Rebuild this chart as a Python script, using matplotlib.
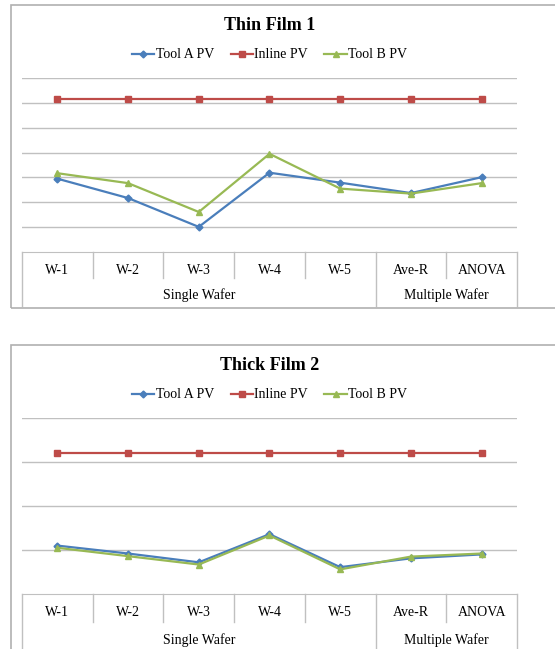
import numpy as np
import matplotlib.pyplot as plt
from matplotlib.patches import Rectangle
from matplotlib import transforms

plt.rcParams['font.family'] = ['Liberation Serif', 'DejaVu Serif']

# data
kategori = ["W-1", "W-2", "W-3", "W-4", "W-5", "Ave-R", "ANOVA"]
grup = ["Single Wafer", "Multiple Wafer"]
ukuran_grup = [5, 2]

# Thin Film 1
thin_tool_a = [2.95, 2.17, 1.01, 3.19, 2.79, 2.37, 3.01]
thin_inline = [6.15, 6.15, 6.15, 6.15, 6.15, 6.15, 6.15]
thin_tool_b = [3.17, 2.77, 1.61, 3.95, 2.55, 2.35, 2.77]

# Thick Film 2
thick_tool_a = [1.10, 0.92, 0.72, 1.36, 0.61, 0.81, 0.90]
thick_inline = [3.20, 3.20, 3.20, 3.20, 3.20, 3.20, 3.20]
thick_tool_b = [1.05, 0.86, 0.67, 1.33, 0.56, 0.85, 0.92]

W, H = 555, 649
fig = plt.figure(figsize=(W / 100, H / 100), dpi=100)

abu = '#c0c0c0'
warna_a = '#4a7ebb'
warna_inline = '#be4b48'
warna_b = '#98b954'


def panel(judul, tool_a, inline, tool_b, top_px, bot_px, ymax, box_top, box_bot, row1, lab1, lab2):
    ax = fig.add_axes([22 / W, (H - bot_px) / H, 495 / W, (bot_px - top_px) / H])
    x = np.arange(len(kategori))
    ax.plot(x, tool_a, color=warna_a, lw=1.6, marker='D', ms=3.5, label='Tool A PV', zorder=3)
    ax.plot(x, inline, color=warna_inline, lw=1.6, marker='s', ms=5, label='Inline PV', zorder=3)
    ax.plot(x, tool_b, color=warna_b, lw=1.6, marker='^', ms=5, label='Tool B PV', zorder=3)
    ax.set_xlim(-0.5, len(kategori) - 0.5)
    ax.set_ylim(0, ymax)
    ax.set_yticks(np.arange(1, ymax + 1))
    ax.yaxis.grid(True, color=abu, lw=1)
    ax.set_axisbelow(True)
    ax.tick_params(left=False, bottom=False, labelleft=False, labelbottom=False)
    for s in ['top', 'right', 'left']:
        ax.spines[s].set_visible(False)
    ax.spines['bottom'].set_color(abu)

    # tabel kategori di bawah sumbu
    h = ax.bbox.height
    trans = transforms.blended_transform_factory(ax.transData, ax.transAxes)
    batas_grup = np.cumsum([0] + ukuran_grup) - 0.5
    for i in range(len(kategori) + 1):
        xb = i - 0.5
        bawah = -(box_bot - bot_px - 2) / h if xb in batas_grup else -row1 / h
        ax.plot([xb, xb], [0, bawah], color=abu, lw=1, transform=trans, clip_on=False)
    for i, k in enumerate(kategori):
        ax.text(i, -lab1 / h, k, transform=trans, ha='center', va='center', fontsize=10)
    for j, g in enumerate(grup):
        tengah = (batas_grup[j] + batas_grup[j + 1]) / 2
        ax.text(tengah, -lab2 / h, g, transform=trans, ha='center', va='center', fontsize=10)

    ax.annotate(judul, xy=(0.5, 1), xycoords='axes fraction', xytext=(0, 53),
                textcoords='offset pixels', ha='center', va='center',
                fontsize=13, fontweight='bold')
    ax.legend(loc='center', bbox_to_anchor=(0.5, 1 + 23 / h), ncol=3, frameon=False,
              fontsize=10, handlelength=1.6, handletextpad=0.1, columnspacing=1.2,
              borderaxespad=0)

    # bingkai panel
    fig.patches.append(Rectangle((11 / W, (H - box_bot) / H), 600 / W, (box_bot - box_top) / H,
                                 transform=fig.transFigure, fill=False,
                                 edgecolor='#b0b0b0', lw=1.2, zorder=0))
    return ax


panel("Thin Film 1", thin_tool_a, thin_inline, thin_tool_b, 78, 252, 7, 5, 308, 26, 18, 43)
panel("Thick Film 2", thick_tool_a, thick_inline, thick_tool_b, 418, 594, 4, 345, 760, 28, 19, 46)

fig.savefig('out.png', dpi=100)
